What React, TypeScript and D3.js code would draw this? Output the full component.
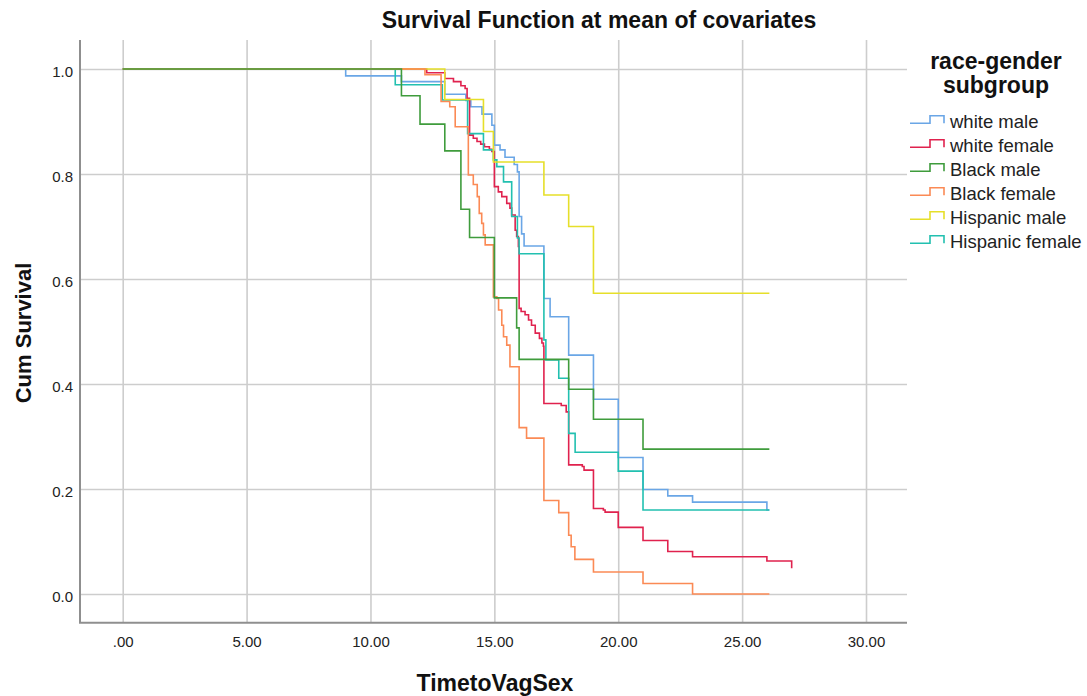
import { useEffect, useRef } from "react";
import * as d3 from "d3";

// axis ticks
const xTicks = [0, 5, 10, 15, 20, 25, 30];
const yTicks = [0, 0.2, 0.4, 0.6, 0.8, 1.0];

// legend groups and colours
const groups = ["white male", "white female", "Black male", "Black female", "Hispanic male", "Hispanic female"];
const groupColors = ["#6aa6e6", "#e0224e", "#3f9c3c", "#fb8a55", "#e6df2a", "#22c0b0"];

// survival steps (time, cum survival)
const whiteMaleTime = [0, 9, 11.25, 13, 13.85, 14.05, 14.5, 14.9, 15, 15.23, 15.43, 15.8, 15.93, 16, 16.1, 16.2, 17, 17.25, 18, 19, 20, 21, 22, 23, 26, 26.1];
const whiteMaleSurv = [1, 0.987, 0.976, 0.952, 0.94, 0.928, 0.914, 0.893, 0.855, 0.846, 0.832, 0.818, 0.804, 0.719, 0.686, 0.663, 0.563, 0.528, 0.455, 0.371, 0.26, 0.199, 0.187, 0.175, 0.16, 0.16];

const whiteFemaleTime = [0, 12.27, 13, 13.35, 13.65, 13.82, 13.9, 14, 14.15, 14.3, 14.45, 14.6, 14.8, 14.9, 15, 15.16, 15.3, 15.5, 15.63, 15.7, 15.84, 15.9, 15.97, 16, 16.08, 16.24, 16.38, 16.5, 16.65, 16.82, 16.92, 16.98, 17, 17.7, 17.9, 18, 18.55, 18.62, 19, 19.4, 19.47, 20, 21, 22, 23, 26, 27];
const whiteFemaleSurv = [1, 0.993, 0.982, 0.976, 0.968, 0.963, 0.944, 0.874, 0.868, 0.862, 0.857, 0.852, 0.847, 0.843, 0.776, 0.766, 0.757, 0.744, 0.735, 0.722, 0.693, 0.681, 0.662, 0.544, 0.538, 0.532, 0.522, 0.512, 0.497, 0.487, 0.478, 0.472, 0.363, 0.359, 0.347, 0.246, 0.243, 0.236, 0.163, 0.16, 0.156, 0.127, 0.102, 0.081, 0.071, 0.063, 0.049];

const blackMaleTime = [0, 11.25, 12, 13, 13.65, 14, 15, 15.9, 16, 18, 19, 21, 26.1];
const blackMaleSurv = [1, 0.949, 0.895, 0.844, 0.733, 0.679, 0.564, 0.507, 0.447, 0.39, 0.333, 0.276, 0.276];

const blackFemaleTime = [0, 12.2, 12.85, 13.2, 13.42, 13.95, 14.15, 14.31, 14.39, 14.49, 14.56, 14.63, 14.96, 15.1, 15.17, 15.3, 15.37, 15.5, 15.63, 16, 16.3, 17, 17.6, 18, 18.1, 18.25, 19, 21, 23, 26.1];
const blackFemaleSurv = [1, 0.989, 0.938, 0.928, 0.89, 0.798, 0.78, 0.757, 0.725, 0.706, 0.684, 0.665, 0.566, 0.563, 0.541, 0.512, 0.49, 0.474, 0.433, 0.317, 0.297, 0.178, 0.155, 0.112, 0.09, 0.066, 0.042, 0.02, 0, 0];

const hispanicMaleTime = [0, 13, 14.56, 14.96, 17, 18, 19, 26.1];
const hispanicMaleSurv = [1, 0.942, 0.881, 0.823, 0.76, 0.7, 0.573, 0.573];

const hispanicFemaleTime = [0, 11, 12.9, 13.92, 14.56, 14.96, 15.1, 15.37, 15.7, 15.93, 16, 17, 17.08, 17.6, 18, 18.26, 20, 21, 26.1];
const hispanicFemaleSurv = [1, 0.97, 0.941, 0.877, 0.846, 0.827, 0.814, 0.785, 0.719, 0.678, 0.648, 0.484, 0.446, 0.411, 0.306, 0.27, 0.234, 0.16, 0.16];

const seriesTimes = [whiteMaleTime, whiteFemaleTime, blackMaleTime, blackFemaleTime, hispanicMaleTime, hispanicFemaleTime];
const seriesSurv = [whiteMaleSurv, whiteFemaleSurv, blackMaleSurv, blackFemaleSurv, hispanicMaleSurv, hispanicFemaleSurv];
// order the curves are painted in (last on top)
const drawOrder = [0, 1, 5, 4, 3, 2];

const font = "'Liberation Sans', Arial, sans-serif";

function App() {
  const svgRef = useRef<SVGSVGElement>(null);

  useEffect(() => {
    const left = 80;
    const right = 907;
    const top = 40;
    const bottom = 622.7;

    const svg = d3.select(svgRef.current);
    svg.selectAll("*").remove();

    // scales
    const x = d3.scaleLinear().domain([0, 30]).range([122.7, 866]);
    const y = d3.scaleLinear().domain([0, 1]).range([594, 69]);

    // x axis with grid
    const xAxis = d3
      .axisBottom(x)
      .tickValues(xTicks)
      .tickFormat((d) => (+d === 0 ? ".00" : d3.format(".2f")(+d)))
      .tickSizeInner(-(bottom - top))
      .tickSizeOuter(0)
      .tickPadding(14);
    const gx = svg.append("g").attr("transform", `translate(0,${bottom})`).call(xAxis);
    gx.select(".domain").remove();
    gx.selectAll("line").attr("stroke", "#cdcdcd").attr("stroke-width", 1.6);
    gx.selectAll("text").attr("font-size", 15).attr("font-family", font).attr("fill", "#222");

    // y axis with grid
    const yAxis = d3
      .axisLeft(y)
      .tickValues(yTicks)
      .tickFormat(d3.format(".1f"))
      .tickSizeInner(-(right - left))
      .tickSizeOuter(0)
      .tickPadding(7);
    const gy = svg.append("g").attr("transform", `translate(${left},0)`).call(yAxis);
    gy.select(".domain").remove();
    gy.selectAll("line").attr("stroke", "#cdcdcd").attr("stroke-width", 1.6);
    gy.selectAll("text").attr("font-size", 15).attr("font-family", font).attr("fill", "#222").attr("dy", "0.5em");

    // spines
    svg.append("line").attr("x1", left).attr("x2", left).attr("y1", top).attr("y2", bottom).attr("stroke", "#8f8f8f").attr("stroke-width", 2);
    svg.append("line").attr("x1", left - 1).attr("x2", right).attr("y1", bottom).attr("y2", bottom).attr("stroke", "#8f8f8f").attr("stroke-width", 2);

    // survival curves
    const line = d3
      .line<[number, number]>()
      .x((d) => x(d[0]))
      .y((d) => y(d[1]))
      .curve(d3.curveStepAfter);

    drawOrder.forEach((i) => {
      const pts: [number, number][] = seriesTimes[i].map((t, k) => [t, seriesSurv[i][k]]);
      svg
        .append("path")
        .attr("d", line(pts))
        .attr("fill", "none")
        .attr("stroke", groupColors[i])
        .attr("stroke-width", 1.6);
    });

    // titles
    svg
      .append("text")
      .attr("x", 599)
      .attr("y", 28)
      .attr("text-anchor", "middle")
      .attr("font-family", font)
      .attr("font-weight", "bold")
      .attr("font-size", 23)
      .attr("fill", "#111")
      .text("Survival Function at mean of covariates");

    svg
      .append("text")
      .attr("x", 495)
      .attr("y", 691)
      .attr("text-anchor", "middle")
      .attr("font-family", font)
      .attr("font-weight", "bold")
      .attr("font-size", 23)
      .attr("fill", "#111")
      .text("TimetoVagSex");

    svg
      .append("text")
      .attr("transform", "translate(31,333) rotate(-90)")
      .attr("text-anchor", "middle")
      .attr("font-family", font)
      .attr("font-weight", "bold")
      .attr("font-size", 22)
      .attr("fill", "#111")
      .text("Cum Survival");

    // legend
    const lg = svg.append("g");
    ["race-gender", "subgroup"].forEach((s, i) => {
      lg.append("text")
        .attr("x", 996)
        .attr("y", 69 + i * 24)
        .attr("text-anchor", "middle")
        .attr("font-family", font)
        .attr("font-weight", "bold")
        .attr("font-size", 23)
        .attr("fill", "#111")
        .text(s);
    });
    groups.forEach((g, i) => {
      const yb = 128 + i * 24;
      lg.append("path")
        .attr("d", `M910,${yb - 4.7}H930V${yb - 12.3}H944V${yb - 4.7}`)
        .attr("fill", "none")
        .attr("stroke", groupColors[i])
        .attr("stroke-width", 1.6);
      lg.append("text")
        .attr("x", 950)
        .attr("y", yb)
        .attr("font-family", font)
        .attr("font-size", 18.5)
        .attr("fill", "#222")
        .text(g);
    });
  }, []);

  return (
    <svg
      ref={svgRef}
      width={1087}
      height={696}
      style={{ position: "absolute", left: 0, top: 0, background: "#fff" }}
    ></svg>
  );
}

export default App;
